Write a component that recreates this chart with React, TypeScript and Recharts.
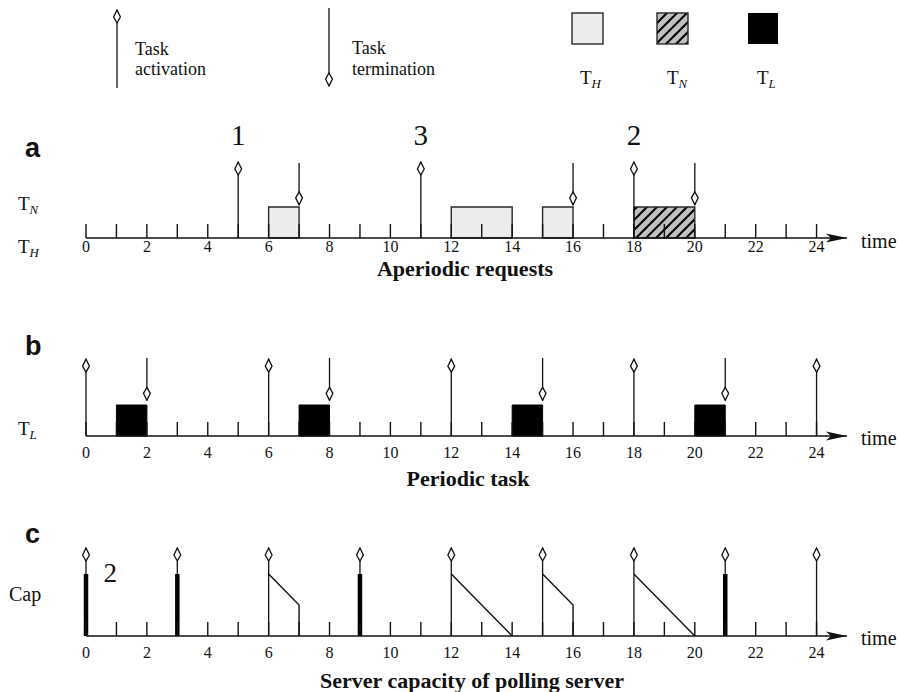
import React from 'react'
import {
  ComposedChart,
  Line,
  ReferenceArea,
  ReferenceDot,
  ReferenceLine,
  XAxis,
  YAxis
} from 'recharts'

// Timeline of a polling server: aperiodic requests, periodic task, server capacity.
// Y unit = one "capacity" unit; box height 1, capacity max 2.

const SERIF = '"Liberation Serif", "Times New Roman", serif'
const SANS = '"Liberation Sans", Arial, sans-serif'
const INK = '#111'

const TIME_TICKS = [0, 1, 2, 3, 4, 5, 6, 7, 8, 9, 10, 11, 12, 13, 14, 15, 16, 17, 18, 19, 20, 21, 22, 23, 24]

// (a) aperiodic requests
const REQ_ARRIVALS = [5, 11, 18]
const REQ_COSTS = ['1', '3', '2']
const REQ_ENDS = [7, 16, 20]
const TH_SLOTS: [number, number][] = [[6, 7], [12, 14], [15, 16]]
const TN_SLOTS: [number, number][] = [[18, 20]]

// (b) periodic task
const PER_RELEASES = [0, 6, 12, 18, 24]
const PER_ENDS = [2, 8, 15, 21]
const TL_SLOTS: [number, number][] = [[1, 2], [7, 8], [14, 15], [20, 21]]

// (c) server capacity
const SRV_RELEASES = [0, 3, 6, 9, 12, 15, 18, 21, 24]
const SRV_DISCARDS = [0, 3, 9, 21]
const CAP_T = [6, 7, 7, 7, 12, 14, 14, 15, 16, 16, 16, 18, 20]
const CAP_V = [2, 1, 0, null, 2, 0, null, 2, 1, 0, null, 2, 0]
const SERVER_CAP = 2

// arrow heights (in capacity units)
const A_ACT_TOP = 2.45
const A_END_TOP = 2.42
const A_END_TIP = 1.07
const B_ACT_TOP = 2.48
const B_END_TOP = 2.52
const B_END_TIP = 1.15
const C_ACT_TOP = 2.84
const COST_LABEL_Y = 3.33

const capData = CAP_T.map((t, i) => ({ t, cap: CAP_V[i] }))

const UNIT = 31
const CHART_H = 4 * UNIT + 30
const MARGIN = { top: 0, right: 54, bottom: 0, left: 86 }

function TimeTick(props: any) {
  const { x, y, payload, labelDy } = props
  const v = payload.value as number
  return (
    <g>
      <line x1={x} x2={x} y1={y} y2={y - 14} stroke={INK} strokeWidth={1.4} />
      {v % 2 === 0 && (
        <text x={x} y={y + labelDy} textAnchor="middle" fontSize={16} fontFamily={SERIF} fill={INK}>
          {v}
        </text>
      )}
    </g>
  )
}

function Axes({ labelDy }: { labelDy: number }) {
  return (
    <>
      <XAxis
        type="number"
        dataKey="t"
        domain={[0, 25]}
        ticks={TIME_TICKS}
        interval={0}
        allowDataOverflow
        height={30}
        tickSize={0}
        tickMargin={0}
        tickLine={false}
        axisLine={{ stroke: INK, strokeWidth: 1.6, markerEnd: 'url(#axisHead)' }}
        tick={(p: any) => <TimeTick {...p} labelDy={labelDy} />}
      />
      <YAxis type="number" domain={[0, 4]} hide allowDataOverflow />
    </>
  )
}

const arrow = (x: number, y1: number, y2: number, key: string) => (
  <ReferenceLine
    key={key}
    segment={[{ x, y: y1 }, { x, y: y2 }]}
    stroke={INK}
    strokeWidth={1.3}
    markerEnd="url(#diamond)"
    ifOverflow="visible"
  />
)

function Sub({ x, y, main, sub, size = 19 }: { x: number; y: number; main: string; sub: string; size?: number }) {
  return (
    <text x={x} y={y} fontFamily={SERIF} fontSize={size} fill={INK}>
      {main}
      <tspan fontStyle="italic" fontSize={size * 0.68} dy={4}>
        {sub}
      </tspan>
    </text>
  )
}

export default function App() {
  return (
    <div style={{ position: 'absolute', left: 0, top: 0, width: 901, height: 692, background: '#fff' }}>
      <div style={{ position: 'absolute', left: 0, top: 238 - 4 * UNIT }}>
        <ComposedChart width={901} height={CHART_H} margin={MARGIN} data={[]}>
          <Axes labelDy={14} />
          {TH_SLOTS.map(([a, b]) => (
            <ReferenceArea key={`h${a}`} x1={a} x2={b} y1={0} y2={1} fill="#ebedec" fillOpacity={1} stroke="#2a2a2a" strokeWidth={1.4} ifOverflow="visible" />
          ))}
          {TN_SLOTS.map(([a, b]) => (
            <ReferenceArea key={`n${a}`} x1={a} x2={b} y1={0} y2={1} fill="url(#hatch)" fillOpacity={1} stroke="#2a2a2a" strokeWidth={1.4} ifOverflow="visible" />
          ))}
          {REQ_ARRIVALS.map((t) => arrow(t, 0, A_ACT_TOP, `ra${t}`))}
          {REQ_ENDS.map((t) => arrow(t, A_END_TOP, A_END_TIP, `re${t}`))}
          {REQ_ARRIVALS.map((t, i) => (
            <ReferenceDot
              key={`rc${t}`}
              x={t}
              y={COST_LABEL_Y}
              r={0}
              fill="none"
              stroke="none"
              ifOverflow="visible"
              label={{ value: REQ_COSTS[i], position: 'center', fontSize: 29, fontFamily: SERIF, fill: INK }}
            />
          ))}
        </ComposedChart>
      </div>

      <div style={{ position: 'absolute', left: 0, top: 436 - 4 * UNIT }}>
        <ComposedChart width={901} height={CHART_H} margin={MARGIN} data={[]}>
          <Axes labelDy={22} />
          {TL_SLOTS.map(([a, b]) => (
            <ReferenceArea key={`l${a}`} x1={a} x2={b} y1={0} y2={1} fill="#000" fillOpacity={1} stroke="#000" strokeWidth={1} ifOverflow="visible" />
          ))}
          {PER_RELEASES.map((t) => arrow(t, 0, B_ACT_TOP, `pa${t}`))}
          {PER_ENDS.map((t) => arrow(t, B_END_TOP, B_END_TIP, `pe${t}`))}
        </ComposedChart>
      </div>

      <div style={{ position: 'absolute', left: 0, top: 636 - 4 * UNIT }}>
        <ComposedChart width={901} height={CHART_H} margin={MARGIN} data={capData}>
          <Axes labelDy={22} />
          {SRV_RELEASES.map((t) => arrow(t, 0, C_ACT_TOP, `sa${t}`))}
          {SRV_DISCARDS.map((t) => (
            <ReferenceLine key={`sd${t}`} segment={[{ x: t, y: 0 }, { x: t, y: SERVER_CAP }]} stroke="#000" strokeWidth={4.5} ifOverflow="visible" />
          ))}
          <Line
            dataKey="cap"
            stroke={INK}
            strokeWidth={1.4}
            dot={false}
            activeDot={false}
            connectNulls={false}
            isAnimationActive={false}
            type="linear"
          />
          <ReferenceDot
            x={0.8}
            y={2.05}
            r={0}
            fill="none"
            stroke="none"
            ifOverflow="visible"
            label={{ value: '2', position: 'center', fontSize: 27, fontFamily: SERIF, fill: INK }}
          />
        </ComposedChart>
      </div>

      <svg width={901} height={692} style={{ position: 'absolute', left: 0, top: 0, pointerEvents: 'none' }}>
        <defs>
          <marker id="diamond" viewBox="-1 -4.5 15 9" refX={13} refY={0} markerWidth={15} markerHeight={9} markerUnits="userSpaceOnUse" orient="auto">
            <path d="M0,0 L6,-3.4 L13,0 L6,3.4 Z" fill="#fff" stroke={INK} strokeWidth={1.3} />
          </marker>
          <marker id="axisHead" viewBox="0 -5 21 10" refX={21} refY={0} markerWidth={21} markerHeight={10} markerUnits="userSpaceOnUse" orient="auto">
            <path d="M0,-4.5 L21,0 L0,4.5 L5,0 Z" fill={INK} />
          </marker>
          <pattern id="hatch" patternUnits="userSpaceOnUse" width={10} height={10}>
            <rect width={10} height={10} fill="#c0c0c0" />
            <path d="M-2,2 L2,-2 M0,10 L10,0 M8,12 L12,8" stroke="#000" strokeWidth={2} />
          </pattern>
        </defs>

        {/* legend */}
        <line x1={117} x2={117} y1={88} y2={10} stroke={INK} strokeWidth={1.3} markerEnd="url(#diamond)" />
        <text fontFamily={SERIF} fontSize={18} fill={INK}>
          <tspan x={135} y={55}>Task</tspan>
          <tspan x={135} y={75}>activation</tspan>
        </text>
        <line x1={329} x2={329} y1={8} y2={86} stroke={INK} strokeWidth={1.3} markerEnd="url(#diamond)" />
        <text fontFamily={SERIF} fontSize={18} fill={INK}>
          <tspan x={352} y={54}>Task</tspan>
          <tspan x={352} y={75}>termination</tspan>
        </text>
        <rect x={572} y={13} width={31} height={31} fill="#ebedec" stroke="#2a2a2a" strokeWidth={1.4} />
        <rect x={657} y={13} width={31} height={31} fill="url(#hatch)" stroke="#2a2a2a" strokeWidth={1.4} />
        <rect x={748} y={13} width={30} height={31} fill="#000" />
        <Sub x={580} y={84} main="T" sub="H" />
        <Sub x={667} y={84} main="T" sub="N" />
        <Sub x={757} y={84} main="T" sub="L" />

        {/* panel letters and row labels */}
        <text x={25} y={157} fontFamily={SANS} fontWeight="bold" fontSize={27} fill={INK}>a</text>
        <text x={25} y={355} fontFamily={SANS} fontWeight="bold" fontSize={27} fill={INK}>b</text>
        <text x={25} y={543} fontFamily={SANS} fontWeight="bold" fontSize={27} fill={INK}>c</text>
        <Sub x={18} y={210} main="T" sub="N" />
        <Sub x={18} y={253} main="T" sub="H" />
        <Sub x={18} y={435} main="T" sub="L" />
        <text x={9} y={601} fontFamily={SERIF} fontSize={20} fill={INK}>Cap</text>

        {/* axis names and titles */}
        <text x={861} y={248} fontFamily={SERIF} fontSize={20} fill={INK}>time</text>
        <text x={861} y={445} fontFamily={SERIF} fontSize={20} fill={INK}>time</text>
        <text x={861} y={645} fontFamily={SERIF} fontSize={20} fill={INK}>time</text>
        <text x={465} y={276} textAnchor="middle" fontFamily={SERIF} fontWeight="bold" fontSize={22} fill={INK}>Aperiodic requests</text>
        <text x={468} y={486} textAnchor="middle" fontFamily={SERIF} fontWeight="bold" fontSize={22} fill={INK}>Periodic task</text>
        <text x={472} y={688} textAnchor="middle" fontFamily={SERIF} fontWeight="bold" fontSize={22} fill={INK}>Server capacity of polling server</text>
      </svg>
    </div>
  )
}
